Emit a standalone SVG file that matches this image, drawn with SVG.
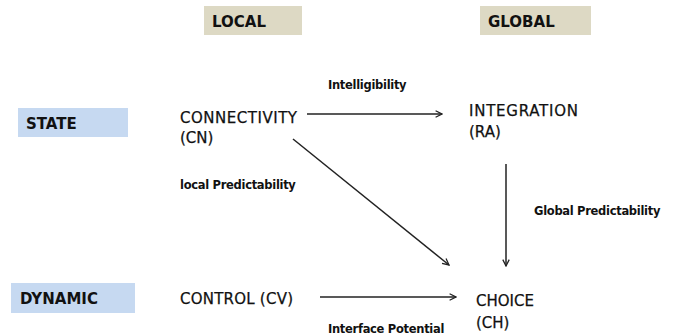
<svg xmlns="http://www.w3.org/2000/svg" width="678" height="336" viewBox="0 0 678 336">
<style>
.bg{fill:#fff}
.hdr{fill:#ddd9c4}
.row{fill:#c6d9f1}
.h{font-family:"DejaVu Sans",Verdana,sans-serif;font-weight:bold;font-size:15px;fill:#111}
.n{font-family:"DejaVu Sans",Verdana,sans-serif;font-size:15px;fill:#111;stroke:#111;stroke-width:0.25}
.l{font-family:"DejaVu Sans","Liberation Sans",sans-serif;font-weight:bold;font-size:11.5px;fill:#111;letter-spacing:-0.3px}
.c{stroke:#222;stroke-width:1.5;fill:none;marker-end:url(#a)}
</style>
<defs>
<marker id="a" viewBox="0 0 10 10" refX="9" refY="5" markerWidth="8" markerHeight="8" markerUnits="userSpaceOnUse" orient="auto">
<path d="M1,1 L9,5 L1,9" fill="none" stroke="#222" stroke-width="1.6"/>
</marker>
</defs>
<rect class="bg" width="678" height="336"/>
<g id="local"><rect class="hdr" x="204" y="6" width="98" height="29"/><text class="h" x="212" y="27">LOCAL</text></g>
<g id="global"><rect class="hdr" x="480" y="6" width="111" height="29"/><text class="h" x="488" y="27">GLOBAL</text></g>
<g id="state"><rect class="row" x="18" y="108" width="110" height="29"/><text class="h" x="26" y="129">STATE</text></g>
<g id="dynamic"><rect class="row" x="11" y="283" width="124" height="30"/><text class="h" x="20" y="304">DYNAMIC</text></g>
<g id="cn"><text class="n" x="180" y="123" textLength="117">CONNECTIVITY</text><text class="n" x="180" y="143">(CN)</text></g>
<g id="ra"><text class="n" x="469" y="116" textLength="109">INTEGRATION</text><text class="n" x="469" y="137">(RA)</text></g>
<g id="cv"><text class="n" x="180" y="304" textLength="113">CONTROL (CV)</text></g>
<g id="ch"><text class="n" x="476" y="306">CHOICE</text><text class="n" x="476" y="328">(CH)</text></g>
<g id="connectors">
<line class="c" x1="307" y1="114" x2="442" y2="114"/>
<line class="c" x1="506" y1="164" x2="506" y2="266"/>
<line class="c" x1="293" y1="139" x2="449" y2="265"/>
<line class="c" x1="320" y1="297" x2="456" y2="297"/>
<text class="l" x="328" y="89">Intelligibility</text>
<text class="l" x="180" y="189">local Predictability</text>
<text class="l" x="534" y="215">Global Predictability</text>
<text class="l" x="328" y="333">Interface Potential</text>
</g>
</svg>
